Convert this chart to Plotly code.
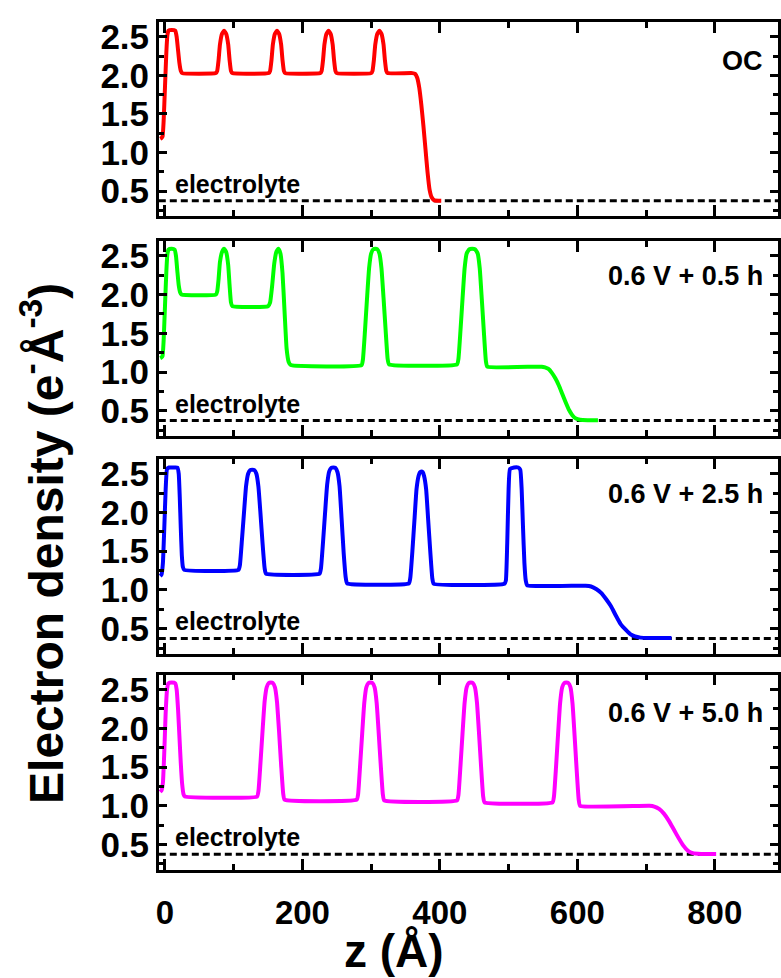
import plotly.graph_objects as go

# ---------------- data ----------------
electrolyte_level = 0.375
z_range = [-9, 892]

# OC (red)
z_oc = [-7, -5, -3.5, -2, 0, 2, 3.5, 5, 10, 15, 17, 19, 21, 23, 25,
        74, 76, 78, 80, 83, 86, 89, 92, 94, 96, 98,
        151, 153, 155, 157, 160, 163, 166, 169, 171, 173, 175,
        226, 228, 230, 232, 235, 238, 241, 244, 246, 248, 250,
        300, 302, 304, 306, 309, 312, 315, 318, 320, 322, 324,
        360, 364, 367, 370, 373, 376, 379, 382, 385, 388, 392, 402]
rho_oc = [1.18, 1.19, 1.21, 1.4, 1.85, 2.3, 2.52, 2.58, 2.59, 2.58, 2.5, 2.33, 2.16, 2.06, 2.03,
          2.03, 2.06, 2.2, 2.4, 2.54, 2.58, 2.54, 2.4, 2.2, 2.06, 2.03,
          2.03, 2.06, 2.2, 2.4, 2.54, 2.58, 2.54, 2.4, 2.2, 2.06, 2.03,
          2.03, 2.06, 2.2, 2.4, 2.54, 2.58, 2.54, 2.4, 2.2, 2.06, 2.03,
          2.03, 2.06, 2.2, 2.4, 2.54, 2.58, 2.54, 2.4, 2.2, 2.06, 2.03,
          2.03, 2.02, 1.97, 1.84, 1.62, 1.35, 1.05, 0.75, 0.52, 0.42, 0.38, 0.375]

# 0.6 V + 0.5 h (green)
z_05h = [-7, -5, -3.5, -2, 0, 2, 3.5, 5, 10, 14, 16, 18, 20, 22, 24,
         74, 76, 78, 80, 83, 86, 89, 92, 94, 96, 98,
         150, 153, 156, 159, 162, 165, 168, 171, 174, 177, 180, 183,
         286, 288, 291, 294, 297, 300, 303, 306, 309, 312, 315, 318, 321, 324, 326,
         425, 427, 430, 433, 436, 439, 443, 447, 451, 455, 458, 461, 464, 467, 469,
         548, 553, 558, 563, 568, 573, 578, 583, 588, 593, 598, 604, 615, 630]
rho_05h = [1.18, 1.19, 1.21, 1.4, 1.85, 2.3, 2.52, 2.58, 2.59, 2.58, 2.5, 2.3, 2.12, 2.03, 2.0,
           2.0, 2.04, 2.2, 2.42, 2.55, 2.59, 2.55, 2.38, 2.12, 1.9, 1.85,
           1.85, 1.9, 2.12, 2.4, 2.55, 2.59, 2.53, 2.28, 1.78, 1.3, 1.13, 1.09,
           1.09, 1.16, 1.53, 1.95, 2.34, 2.53, 2.585, 2.59, 2.585, 2.53, 2.34, 1.96, 1.55, 1.17, 1.10,
           1.10, 1.17, 1.54, 1.95, 2.34, 2.53, 2.585, 2.59, 2.585, 2.53, 2.34, 1.94, 1.52, 1.14, 1.07,
           1.07, 1.06, 1.04, 0.99, 0.92, 0.83, 0.72, 0.61, 0.51, 0.44, 0.40, 0.385, 0.38, 0.38]

# 0.6 V + 2.5 h (blue)
z_25h = [-7, -5, -3, -1, 1, 3, 6, 12, 18, 20, 21.5, 23, 24.5, 26, 28,
         107, 109, 112, 115, 118, 121, 124, 127, 130, 133, 136, 139, 142, 145, 147,
         225, 227, 230, 233, 236, 239, 242, 245, 248, 251, 254, 257, 260, 263, 265,
         355, 357, 360, 363, 366, 369, 371, 373, 375, 377, 380, 383, 386, 389, 391,
         494, 496, 498, 500, 502, 508, 514, 517, 519, 521, 523, 525, 527,
         612, 620, 628, 635, 642, 649, 656, 663, 670, 677, 684, 692, 705, 737]
rho_25h = [1.18, 1.2, 1.35, 1.8, 2.3, 2.56, 2.58, 2.58, 2.58, 2.5, 2.2, 1.8, 1.45, 1.3, 1.26,
           1.26, 1.32, 1.65, 2.0, 2.34, 2.5, 2.545, 2.55, 2.545, 2.5, 2.33, 1.98, 1.6, 1.28, 1.21,
           1.21, 1.28, 1.62, 2.0, 2.36, 2.53, 2.575, 2.58, 2.575, 2.52, 2.34, 1.92, 1.48, 1.16, 1.085,
           1.085, 1.16, 1.5, 1.9, 2.3, 2.47, 2.52, 2.53, 2.52, 2.47, 2.3, 1.9, 1.5, 1.15, 1.08,
           1.08, 1.12, 1.6, 2.3, 2.56, 2.58, 2.58, 2.55, 2.3, 1.8, 1.35, 1.12, 1.06,
           1.055, 1.045, 1.01, 0.96, 0.88, 0.79, 0.67, 0.56, 0.49, 0.43, 0.40, 0.385, 0.38, 0.38]

# 0.6 V + 5.0 h (magenta)
z_50h = [-7, -5, -3, -1, 1, 3, 5, 10, 15, 17, 19, 21, 23, 25, 27, 29,
         134, 136, 139, 142, 145, 148, 151, 154, 157, 160, 163, 166, 169, 172, 174,
         279, 281, 284, 287, 290, 293, 296, 299, 302, 305, 308, 311, 314, 317, 319,
         425, 427, 430, 433, 436, 439, 442, 445, 448, 451, 454, 457, 460, 463, 465,
         564, 566, 569, 572, 575, 578, 581, 584, 587, 590, 593, 596, 599, 602, 604,
         705, 712, 719, 726, 733, 740, 747, 754, 761, 768, 780, 802]
rho_50h = [1.18, 1.2, 1.3, 1.7, 2.2, 2.5, 2.58, 2.59, 2.58, 2.5, 2.25, 1.9, 1.55, 1.28, 1.15, 1.12,
           1.12, 1.19, 1.56, 1.97, 2.35, 2.53, 2.585, 2.59, 2.585, 2.53, 2.34, 1.96, 1.53, 1.16, 1.08,
           1.08, 1.15, 1.53, 1.94, 2.33, 2.53, 2.585, 2.59, 2.585, 2.53, 2.33, 1.94, 1.52, 1.15, 1.07,
           1.07, 1.14, 1.52, 1.94, 2.33, 2.53, 2.585, 2.59, 2.585, 2.53, 2.33, 1.93, 1.5, 1.12, 1.045,
           1.045, 1.12, 1.5, 1.93, 2.33, 2.53, 2.585, 2.59, 2.585, 2.53, 2.32, 1.91, 1.47, 1.08, 1.0,
           1.0, 0.99, 0.96, 0.9, 0.81, 0.7, 0.59, 0.49, 0.42, 0.39, 0.38, 0.38]

panel_labels = ["OC", "0.6 V + 0.5 h", "0.6 V + 2.5 h", "0.6 V + 5.0 h"]
series = [(z_oc, rho_oc), (z_05h, rho_05h), (z_25h, rho_25h), (z_50h, rho_50h)]
colors = ["#FF0000", "#00FF00", "#0000FF", "#FF00FF"]
y_tickvals = [0.5, 1.0, 1.5, 2.0, 2.5]
y_ticktext = ["0.5", "1.0", "1.5", "2.0", "2.5"]
x_tickvals = [0, 200, 400, 600, 800]

# ---------------- figure ----------------
W, H = 781, 978
FONT = "Liberation Sans, Arial, sans-serif"
panels_px = [(17, 212), (237, 433), (456, 652), (673, 869)]
label_y_px = [56, 272, 492, 712]

fig = go.Figure()
layout = dict(width=W, height=H, margin=dict(l=0, r=0, t=0, b=0),
              paper_bgcolor="white", plot_bgcolor="white", showlegend=False)
annotations = []

for i, ((zs, rs), col) in enumerate(zip(series, colors)):
    k = i + 1
    xa = "x" if k == 1 else f"x{k}"
    ya = "y" if k == 1 else f"y{k}"
    fig.add_trace(go.Scatter(x=z_range, y=[electrolyte_level] * 2, mode="lines",
                             line=dict(color="black", width=3, dash="7px,4px"),
                             xaxis=xa, yaxis=ya, hoverinfo="skip"))
    fig.add_trace(go.Scatter(x=zs, y=rs, mode="lines",
                             line=dict(color=col, width=4, shape="spline", smoothing=0.4),
                             xaxis=xa, yaxis=ya))
    top, bot = panels_px[i]
    layout[f"xaxis{k}" if k > 1 else "xaxis"] = dict(
        domain=[157 / W, 1.0], range=z_range, anchor=ya,
        showline=True, linecolor="black", linewidth=2.5, mirror="ticks",
        ticks="inside", ticklen=11, tickwidth=2.5, tickcolor="black",
        tickvals=x_tickvals, showticklabels=(k == 4), ticklabelstandoff=12,
        minor=dict(dtick=100, tick0=0, ticks="inside", ticklen=6, tickwidth=2.5, tickcolor="black"),
        showgrid=False, zeroline=False,
        tickfont=dict(family=FONT, size=33, color="black", weight="bold"),
    )
    layout[f"yaxis{k}" if k > 1 else "yaxis"] = dict(
        domain=[1 - bot / H, 1 - top / H], range=[0.178, 2.694], anchor=xa,
        showline=True, linecolor="black", linewidth=2.5, mirror="ticks",
        ticks="inside", ticklen=8, tickwidth=2.5, tickcolor="black",
        tickvals=y_tickvals, ticktext=y_ticktext,
        minor=dict(tickvals=[0.25, 0.75, 1.25, 1.75, 2.25], ticks="inside", ticklen=5,
                   tickwidth=2.5, tickcolor="black"),
        showgrid=False, zeroline=False,
        tickfont=dict(family=FONT, size=35, color="black", weight="bold"),
    )
    annotations.append(dict(text=panel_labels[i], xref="paper", yref="paper",
                            x=768 / W, y=1 - label_y_px[i] / H, xanchor="right", yanchor="middle",
                            showarrow=False,
                            font=dict(family=FONT, size=27, color="black", weight="bold")))
    annotations.append(dict(text="electrolyte", xref=xa, yref=ya, x=11.5, y=electrolyte_level,
                            xanchor="left", yanchor="bottom", yshift=1, showarrow=False,
                            font=dict(family=FONT, size=25, color="black", weight="bold")))

annotations.append(dict(text="Electron density (e<sup>-</sup>Å<sup>-3</sup>)",
                        xref="paper", yref="paper", x=40 / W, y=1 - 541 / H,
                        xanchor="center", yanchor="middle", textangle=-90, showarrow=False,
                        font=dict(family=FONT, size=48, color="black", weight="bold")))
annotations.append(dict(text="z (Å)", xref="paper", yref="paper", x=394 / W, y=1 - 951 / H,
                        xanchor="center", yanchor="middle", showarrow=False,
                        font=dict(family=FONT, size=46, color="black", weight="bold")))
layout["annotations"] = annotations
fig.update_layout(**layout)
fig.write_html("out.html", config={"displayModeBar": False},
               post_script="document.body.style.margin='0px';document.body.style.overflow='hidden';")
